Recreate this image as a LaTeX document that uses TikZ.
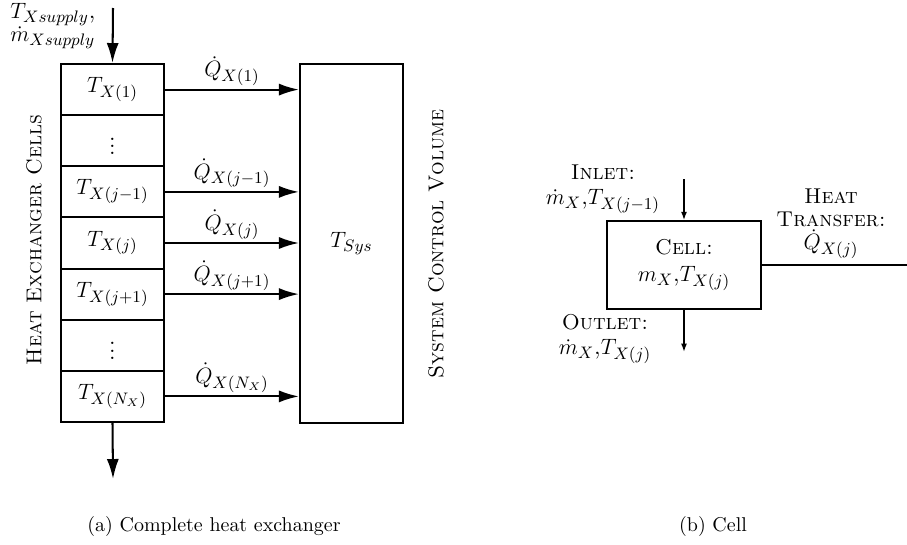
\documentclass[tikz,border=0pt]{standalone}
\usetikzlibrary{arrows.meta}
\newcommand\sclabel[1]{{\fontsize{11.6}{13}\selectfont\textsc{#1}}}
\begin{document}
\begin{tikzpicture}[x=0.5405pt,y=-0.5405pt,
  dfont/.style={font=\fontsize{13}{13.5}\selectfont},
  cellbox/.style={draw,line width=1.1pt,minimum width=55.7pt,minimum height=27.64pt,inner sep=0pt,dfont},
  sysbox/.style={draw,line width=1.1pt,minimum width=55.7pt,minimum height=194pt,inner sep=0pt,dfont},
  bigarrow/.style={line width=1.1pt,-{Latex[length=10.8pt,width=6.5pt]}},
  qlabel/.style={midway,above,inner sep=1.5pt,dfont},
  smallbox/.style={draw,line width=0.8pt,minimum width=83.2pt,minimum height=47.6pt,inner sep=0pt,align=center,dfont},
  smallarrow/.style={line width=0.8pt,-{Latex[length=4.5pt,width=3.2pt]}},
  flowlabel/.style={align=center,dfont,inner sep=0pt},
  caption/.style={font=\fontsize{10.8}{12}\selectfont}
]
\useasboundingbox (0,0) rectangle (907,545);
% left: heat exchanger cells
\node[cellbox] (c1) at (112.5,89.6) {$T_{X(1)}$};
\node[cellbox] (c2) at (112.5,140.7) {$\vdots$};
\node[cellbox] (c3) at (112.5,191.9) {$T_{X(j-1)}$};
\node[cellbox] (c4) at (112.5,243.0) {$T_{X(j)}$};
\node[cellbox] (c5) at (112.5,294.1) {$T_{X(j+1)}$};
\node[cellbox] (c6) at (112.5,345.3) {$\vdots$};
\node[cellbox] (c7) at (112.5,396.4) {$T_{X(N_X)}$};
\node[sysbox] (sys) at (351.5,243.2) {$T_{Sys}$};
\node[rotate=90] (hec) at (34,240) {\sclabel{Heat Exchanger Cells}};
\node[rotate=90] (scv) at (436,244) {\sclabel{System Control Volume}};
\draw[bigarrow] (c1.east) -- (c1.east -| sys.west) node[qlabel] (q1) {$\dot Q_{X(1)}$};
\draw[bigarrow] (c3.east) -- (c3.east -| sys.west) node[qlabel] (q3) {$\dot Q_{X(j-1)}$};
\draw[bigarrow] (c4.east) -- (c4.east -| sys.west) node[qlabel] (q4) {$\dot Q_{X(j)}$};
\draw[bigarrow] (c5.east) -- (c5.east -| sys.west) node[qlabel] (q5) {$\dot Q_{X(j+1)}$};
\draw[bigarrow] (c7.east) -- (c7.east -| sys.west) node[qlabel] (q7) {$\dot Q_{X(N_X)}$};
\coordinate (tin) at (113,8);
\coordinate (tout) at (113,479);
\draw[bigarrow] (tin) -- (c1.north);
\draw[bigarrow] (c7.south) -- (tout);
\node[dfont,align=left,anchor=west,inner sep=0pt] (sup) at (10,26) {$T_{Xsupply}$,\\[-1pt]$\dot m_{Xsupply}$};
% right: cell
\node[smallbox] (cell) at (684,265) {\sclabel{Cell:}\\[1pt]$m_X$,$T_{X(j)}$};
\coordinate (cin) at (684,179);
\coordinate (cout) at (684,352);
\coordinate (qend) at (907,265);
\draw[smallarrow] (cin) -- (cell.north);
\draw[smallarrow] (cell.south) -- (cout);
\draw[line width=0.8pt] (cell.east) -- (qend);
\node[flowlabel] (inl) at (603,189) {\sclabel{Inlet:}\\$\dot m_X$,$T_{X(j-1)}$};
\node[flowlabel] (outl) at (605,339) {\sclabel{Outlet:}\\$\dot m_X$,$T_{X(j)}$};
\node[flowlabel] (ht) at (831,224) {\sclabel{Heat}\\[-1pt]\sclabel{Transfer:}\\[-1pt]$\dot Q_{X(j)}$};
% captions
\node[caption] (capa) at (214,526) {(a) Complete heat exchanger};
\node[caption] (capb) at (713,526) {(b) Cell};
\end{tikzpicture}
\end{document}
